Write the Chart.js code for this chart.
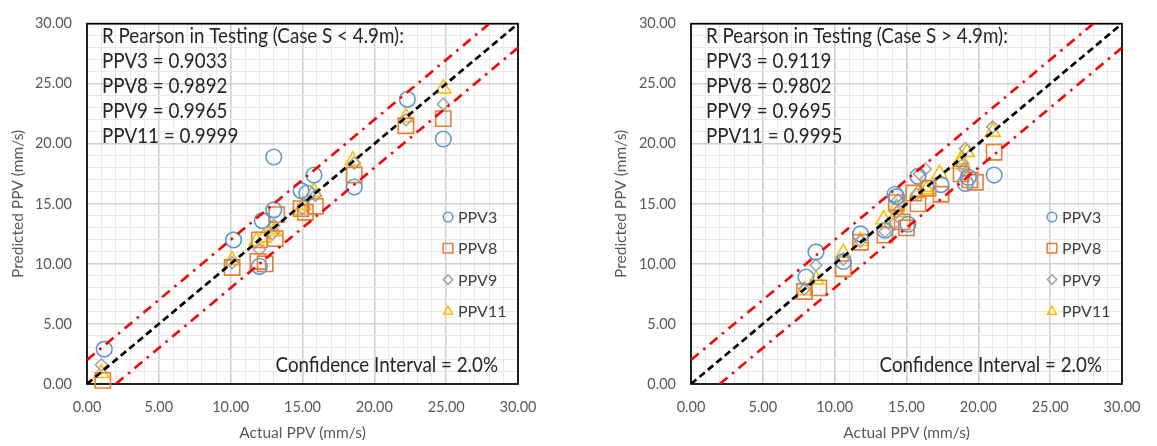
<!DOCTYPE html>
<html lang="en">
<head>
<meta charset="UTF-8">
<title>Predicted vs Actual PPV</title>
<style>
  html, body { margin: 0; padding: 0; background: #fff; }
  canvas { position: absolute; top: 0; }
  #chartLow { left: 0; }
  #chartHigh { left: 580px; }
</style>
</head>
<body>
<canvas id="chartLow" width="580" height="446"></canvas>
<canvas id="chartHigh" width="577" height="446"></canvas>
<script src="https://cdn.jsdelivr.net/npm/chart.js"></script>
<script>
// --- data: [actual, predicted] pairs ---
const lowPPV3 = [[1.2,2.9],[10.2,12.0],[12.0,9.8],[12.2,13.6],[13.0,18.9],[13.0,14.5],[14.9,16.1],[15.3,15.9],[15.8,17.4],[18.6,16.4],[22.3,23.7],[24.8,20.4]];
const lowPPV8 = [[1.1,0.3],[10.1,9.7],[11.9,10.2],[12.4,10.0],[12.0,12.0],[13.1,12.1],[13.2,14.1],[14.9,14.6],[15.2,14.3],[15.9,14.8],[18.6,17.4],[22.2,21.5],[24.8,22.1]];
const lowPPV9 = [[1.0,1.6],[10.1,10.1],[12.0,11.2],[12.9,12.5],[13.0,13.2],[15.0,14.6],[15.9,15.7],[18.6,18.4],[22.2,22.0],[24.8,23.3]];
const lowPPV11 = [[1.0,0.9],[10.1,10.3],[11.8,11.9],[12.3,12.2],[12.9,12.9],[13.0,12.7],[14.9,14.5],[15.05,14.9],[15.8,16.0],[18.5,18.6],[22.2,22.2],[24.8,24.6]];

const highPPV3 = [[8.0,8.9],[8.7,11.0],[10.6,10.2],[11.8,12.5],[13.5,12.8],[14.2,15.8],[14.3,15.6],[15.1,13.3],[15.8,17.3],[17.4,16.6],[19.1,16.7],[19.3,17.2],[21.1,17.4]];
const highPPV8 = [[7.9,7.7],[8.9,8.0],[10.6,9.6],[11.8,11.8],[13.5,12.4],[14.3,15.1],[14.7,13.5],[15.0,13.0],[15.5,15.9],[15.8,15.0],[16.5,16.3],[17.4,15.8],[18.8,17.5],[19.4,17.0],[19.8,16.8],[21.1,19.3]];
const highPPV9 = [[7.9,7.9],[8.7,9.9],[10.6,10.4],[11.8,11.9],[13.5,12.7],[14.1,13.3],[14.3,14.3],[14.4,15.3],[15.7,15.8],[15.9,17.5],[16.3,17.9],[18.9,18.3],[19.0,17.9],[19.1,19.6],[21.0,21.4]];
const highPPV11 = [[7.9,7.8],[8.7,8.7],[10.6,10.9],[11.8,11.9],[13.4,13.7],[14.3,14.7],[14.4,14.3],[15.8,15.9],[16.4,16.2],[16.3,16.4],[17.3,17.5],[18.7,18.3],[18.8,18.7],[19.2,19.3],[21.0,21.0]];

// reference lines (1:1 and +/- 2 band)
const identityLine = [[0,0],[30,30]];
const upperBand = [[0,2],[28,30]];
const lowerBand = [[2,0],[30,28]];

const majorTicks = [0, 5, 10, 15, 20, 25, 30];
const seriesNames = ['PPV3', 'PPV8', 'PPV9', 'PPV11'];

const lowNotes = ['R Pearson in Testing (Case S < 4.9m):', 'PPV3 = 0.9033', 'PPV8 = 0.9892', 'PPV9 = 0.9965', 'PPV11 = 0.9999'];
const highNotes = ['R Pearson in Testing (Case S > 4.9m):', 'PPV3 = 0.9119', 'PPV8 = 0.9802', 'PPV9 = 0.9695', 'PPV11 = 0.9995'];
const ciLabel = 'Confidence Interval = 2.0%';

const FONT = 'Lato, "Open Sans", sans-serif';
const styles = [
  { color: '#5b9bd5', pointStyle: 'circle', radius: 7.8 },
  { color: '#ed7d31', pointStyle: 'rect', radius: 10.8 },
  { color: '#a5a5a5', pointStyle: 'rectRot', radius: 6 },
  { color: '#ffc000', pointStyle: 'triangle', radius: 8.7 }
];

const toXY = arr => arr.map(p => ({ x: p[0], y: p[1] }));

// black frame around the plot area
const framePlugin = {
  id: 'frame',
  beforeDatasetsDraw(chart) {
    const a = chart.chartArea, ctx = chart.ctx;
    ctx.save();
    ctx.strokeStyle = '#000';
    ctx.lineWidth = 1.7;
    ctx.strokeRect(a.left, a.top, a.right - a.left, a.bottom - a.top);
    ctx.restore();
  }
};

// text block + CI note (stretched a little vertically, the original face is taller)
const notesPlugin = {
  id: 'notes',
  afterDraw(chart, args, opts) {
    const ctx = chart.ctx, a = chart.chartArea;
    const sy = 1.12;
    ctx.save();
    ctx.font = '18px ' + FONT;
    const size = 18 * 302 / ctx.measureText(opts.lines[0]).width;
    ctx.font = size.toFixed(2) + 'px ' + FONT;
    ctx.fillStyle = '#262626';
    ctx.textBaseline = 'middle';
    ctx.scale(1, sy);
    opts.lines.forEach((t, i) => ctx.fillText(t, a.left + 15, (36 + i * 25) / sy));
    ctx.textAlign = 'right';
    ctx.fillText(ciLabel, a.right - 20, 365 / sy);
    ctx.restore();
  }
};

// legend drawn inside the plot area
function drawMarker(ctx, style, x, y, s) {
  ctx.beginPath();
  if (style === 'circle') {
    ctx.arc(x, y, s, 0, Math.PI * 2);
  } else if (style === 'rect') {
    ctx.rect(x - s, y - s, 2 * s, 2 * s);
  } else if (style === 'rectRot') {
    ctx.moveTo(x, y - s); ctx.lineTo(x + s, y); ctx.lineTo(x, y + s); ctx.lineTo(x - s, y); ctx.closePath();
  } else {
    ctx.moveTo(x, y - s); ctx.lineTo(x + s * 0.95, y + s * 0.7); ctx.lineTo(x - s * 0.95, y + s * 0.7); ctx.closePath();
  }
  ctx.stroke();
}
const legendPlugin = {
  id: 'insideLegend',
  afterDraw(chart) {
    const ctx = chart.ctx, a = chart.chartArea;
    const x0 = a.right - 70, y0 = 217;
    ctx.save();
    ctx.font = '16px ' + FONT;
    ctx.textBaseline = 'middle';
    chart.data.datasets.filter(d => d.inLegend).forEach((d, i) => {
      const y = y0 + i * 31.3;
      ctx.strokeStyle = d.borderColor;
      ctx.lineWidth = 1.5;
      drawMarker(ctx, d.pointStyle, x0, y, 4.8);
      ctx.fillStyle = '#404040';
      ctx.fillText(d.label, x0 + 10, y + 1);
    });
    ctx.restore();
  }
};

function axis(text, isX, fitSize, titlePad) {
  return {
    type: 'linear', min: 0, max: 30,
    ticks: {
      stepSize: 1, autoSkip: false, maxRotation: 0, padding: 15,
      color: '#595959', font: { family: FONT, size: 14.5 },
      callback: v => majorTicks.includes(Math.round(v * 100) / 100) ? v.toFixed(2) : ''
    },
    grid: {
      drawTicks: false,
      color: c => (c.tick && Math.round(c.tick.value) % 5 === 0) ? '#d0d0d0' : '#e9e9e9',
      lineWidth: c => (c.tick && Math.round(c.tick.value) % 5 === 0) ? 1.6 : 1
    },
    border: { display: false },
    title: {
      display: true, text: text, color: '#595959',
      font: { family: FONT, size: 15.5 },
      padding: isX ? { top: 0, bottom: titlePad } : { top: titlePad, bottom: 0 }
    },
    afterFit: s => { if (isX) s.height = fitSize; else s.width = fitSize; }
  };
}

function buildChart(id, series, notes, yWidth, yTitlePad, padRight) {
  const lineSets = [
    { data: toXY(identityLine), borderColor: '#000', borderDash: [7, 4], borderWidth: 2.7 },
    { data: toXY(upperBand), borderColor: '#ff0000', borderDash: [10, 6, 2.5, 6], borderWidth: 2.6 },
    { data: toXY(lowerBand), borderColor: '#ff0000', borderDash: [10, 6, 2.5, 6], borderWidth: 2.6 }
  ].map(d => Object.assign(d, { showLine: true, pointRadius: 0, fill: false }));

  const pointSets = series.map((s, i) => ({
    label: seriesNames[i],
    inLegend: true,
    data: toXY(s),
    pointStyle: styles[i].pointStyle,
    pointRadius: styles[i].radius,
    pointBorderWidth: 1.6,
    borderColor: styles[i].color,
    backgroundColor: 'rgba(0,0,0,0)',
    pointBackgroundColor: 'rgba(0,0,0,0)',
    clip: false
  }));

  return new Chart(document.getElementById(id), {
    type: 'scatter',
    data: { datasets: lineSets.concat(pointSets) },
    options: {
      responsive: false,
      animation: false,
      events: [],
      layout: { padding: { left: 0, top: 15, right: padRight, bottom: 0 } },
      scales: {
        x: axis('Actual PPV (mm/s)', true, 62, 4),
        y: axis('Predicted PPV (mm/s)', false, yWidth, yTitlePad)
      },
      plugins: {
        legend: { display: false },
        tooltip: { enabled: false },
        notes: { lines: notes }
      }
    },
    plugins: [framePlugin, notesPlugin, legendPlugin]
  });
}

buildChart('chartLow', [lowPPV3, lowPPV8, lowPPV9, lowPPV11], lowNotes, 87, 9, 62);
buildChart('chartHigh', [highPPV3, highPPV8, highPPV9, highPPV11], highNotes, 111, 32, 35);
</script>
</body>
</html>
